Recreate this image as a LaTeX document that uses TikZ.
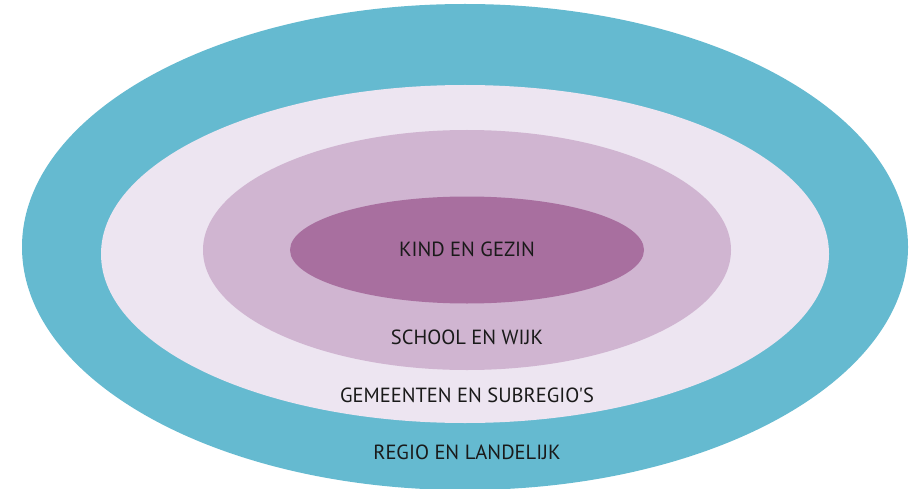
\documentclass[tikz,border=0pt]{standalone}
\usepackage{fontspec}
\setmainfont{PT Sans}[Ligatures=TeXOff]
\definecolor{teal}{HTML}{65BAD0}
\definecolor{lightlila}{HTML}{EDE5F1}
\definecolor{midlila}{HTML}{D0B5D1}
\definecolor{darklila}{HTML}{A86F9F}
\definecolor{ink}{HTML}{1A1A1A}
\begin{document}
\begin{tikzpicture}[x=1pt,y=1pt,
  lbl/.style={text=ink,font=\fontsize{20.5}{24}\selectfont,inner sep=0pt}]
\useasboundingbox (0,0) rectangle (917,488);
\clip (0,0) rectangle (917,488);
\fill[white] (0,0) rectangle (917,488);
\fill[teal] (465,241) ellipse [x radius=443, y radius=243];
\fill[lightlila] (465,234) ellipse [x radius=364, y radius=169];
\fill[midlila] (467,238) ellipse [x radius=264, y radius=120];
\fill[darklila] (467,238) ellipse [x radius=177, y radius=53.5];
\node[lbl] (kind) at (467,239) {KIND EN GEZIN};
\node[lbl] (school) at (467,151) {SCHOOL EN WIJK};
\node[lbl] (gem) at (467,93) {GEMEENTEN EN SUBREGIO'S};
\node[lbl] (regio) at (467,36) {REGIO EN LANDELIJK};
\end{tikzpicture}
\end{document}
